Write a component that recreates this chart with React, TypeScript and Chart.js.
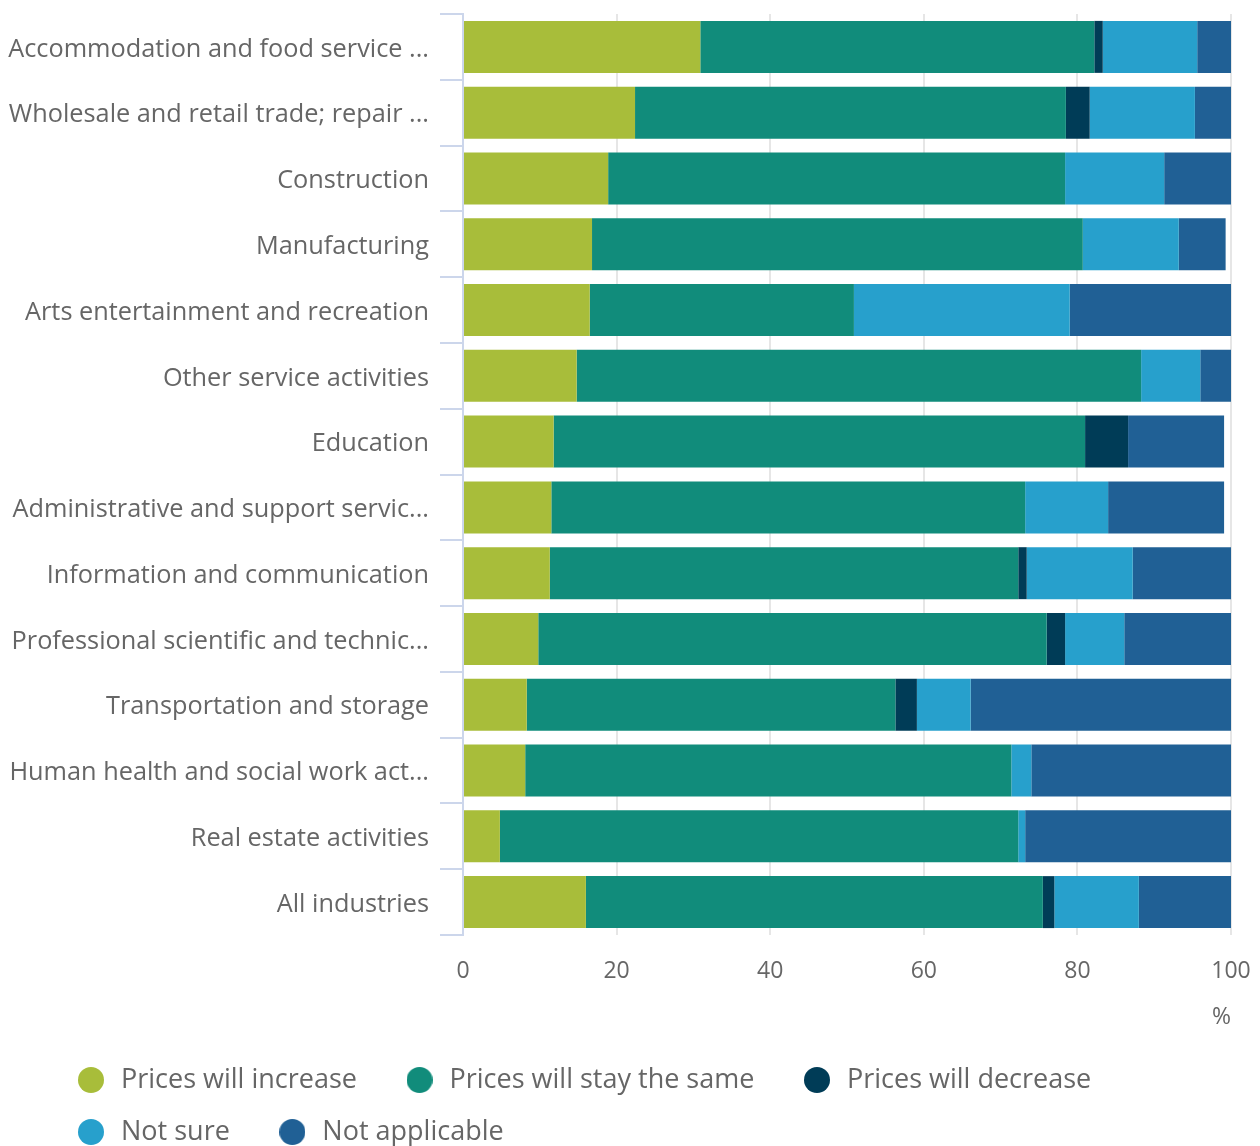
import React, { useEffect, useRef } from "react";
import { Chart, registerables } from "chart.js";

Chart.register(...registerables);

const categories = [
  "Accommodation and food service ...",
  "Wholesale and retail trade; repair ...",
  "Construction",
  "Manufacturing",
  "Arts entertainment and recreation",
  "Other service activities",
  "Education",
  "Administrative and support servic...",
  "Information and communication",
  "Professional scientific and technic...",
  "Transportation and storage",
  "Human health and social work act...",
  "Real estate activities",
  "All industries",
];

const pricesIncrease = [30.9, 22.4, 18.9, 16.8, 16.5, 14.8, 11.8, 11.5, 11.3, 9.8, 8.3, 8.1, 4.8, 16.0];
const pricesSame = [51.3, 56.1, 59.5, 63.9, 34.4, 73.5, 69.2, 61.7, 61.0, 66.2, 48.0, 63.3, 67.5, 59.5];
const pricesDecrease = [1.1, 3.1, 0, 0, 0, 0, 5.6, 0, 1.1, 2.4, 2.8, 0, 0, 1.5];
const notSure = [12.3, 13.7, 12.9, 12.5, 28.1, 7.7, 0, 10.8, 13.8, 7.7, 7.0, 2.6, 0.9, 11.0];
const notApplicable = [4.4, 4.7, 8.7, 6.1, 21.0, 4.0, 12.5, 15.1, 12.8, 13.9, 33.9, 26.0, 26.8, 12.0];

const seriesNames = [
  "Prices will increase",
  "Prices will stay the same",
  "Prices will decrease",
  "Not sure",
  "Not applicable",
];
const seriesColors = ["#a8bd3a", "#118c7b", "#003c57", "#27a0cc", "#206095"];
const xTicks = [0, 20, 40, 60, 80, 100];

const FONT = "'Open Sans', 'Noto Sans', sans-serif";

function makeDot(color: string): HTMLCanvasElement {
  const c = document.createElement("canvas");
  c.width = 26;
  c.height = 26;
  const ctx = c.getContext("2d");
  if (ctx) {
    ctx.fillStyle = color;
    ctx.beginPath();
    ctx.arc(13, 13, 13, 0, Math.PI * 2);
    ctx.fill();
  }
  return c;
}

export default function App() {
  const canvasRef = useRef<HTMLCanvasElement | null>(null);

  useEffect(() => {
    document.body.style.margin = "0";
    const canvas = canvasRef.current;
    if (!canvas) return;
    const values = [pricesIncrease, pricesSame, pricesDecrease, notSure, notApplicable];
    const dots = seriesColors.map(makeDot);
    const legendShift = {
      id: "legendShift",
      afterLayout(ch: any) {
        if (ch.legend) {
          ch.legend.left += 49.5;
          ch.legend.top += 2;
        }
      },
    };
    const chart = new Chart(canvas, {
      type: "bar",
      data: {
        labels: categories,
        datasets: seriesNames.map((name, i) => ({
          label: name,
          data: values[i],
          backgroundColor: seriesColors[i],
          borderWidth: 0,
          barPercentage: 0.79,
          categoryPercentage: 1,
        })),
      },
      plugins: [legendShift],
      options: {
        indexAxis: "y",
        responsive: false,
        animation: false,
        devicePixelRatio: 1,
        layout: { padding: { top: 14, left: 0, right: 29, bottom: -7.5 } },
        scales: {
          x: {
            stacked: true,
            min: 0,
            max: 100,
            afterBuildTicks: (scale: any) => {
              scale.ticks = xTicks.map((v) => ({ value: v }));
            },
            afterFit: (scale: any) => {
              scale.height = 104.5;
              scale.paddingLeft = 0;
              scale.paddingRight = 0;
            },
            grid: { color: "#e6e6e6", lineWidth: 2, drawTicks: false },
            border: { display: false },
            ticks: {
              color: "#666666",
              font: { family: FONT, size: 23 },
              padding: 23,
              maxRotation: 0,
            },
            title: {
              display: true,
              text: "%",
              align: "end",
              color: "#666666",
              font: { family: FONT, size: 23 },
              padding: { top: 18.6, bottom: 8.7 },
            },
          },
          y: {
            stacked: true,
            afterFit: (scale: any) => {
              scale.width = 463;
              scale.paddingTop = 0;
              scale.paddingBottom = 0;
            },
            grid: {
              offset: true,
              drawOnChartArea: false,
              drawTicks: true,
              tickLength: 23,
              color: "#ccd6eb",
              lineWidth: 2,
            },
            border: { display: true, color: "#ccd6eb", width: 2 },
            ticks: {
              color: "#666666",
              font: { family: FONT, size: 25.3 },
              padding: 11,
              labelOffset: 2.5,
              autoSkip: false,
            },
          },
        },
        plugins: {
          title: { display: false },
          tooltip: { enabled: false },
          legend: {
            position: "bottom",
            align: "start",
            labels: {
              usePointStyle: true,
              pointStyleWidth: 33,
              boxHeight: 26,
              padding: 25,
              color: "#666666",
              font: { family: FONT, size: 27 },
              generateLabels: (ch: any) => {
                const base = Chart.defaults.plugins.legend.labels.generateLabels(ch);
                return base.map((item: any, i: number) => ({
                  ...item,
                  text: item.text + "   ",
                  pointStyle: dots[i],
                  lineWidth: 0,
                  strokeStyle: "transparent",
                }));
              },
            },
          },
        },
      },
    });
    return () => chart.destroy();
  }, []);

  return (
    <div style={{ width: 1260, height: 1146, position: "relative", background: "#ffffff" }}>
      <canvas ref={canvasRef} width={1260} height={1146} />
    </div>
  );
}
